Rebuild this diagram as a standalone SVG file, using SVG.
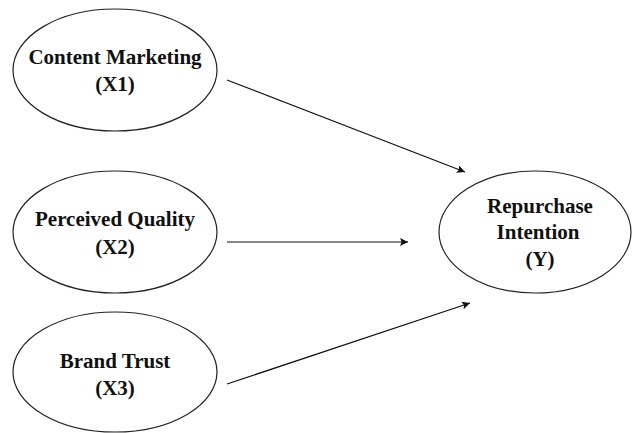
<svg xmlns="http://www.w3.org/2000/svg" width="632" height="433" viewBox="0 0 632 433">
  <style>
    .node ellipse { fill: #ffffff; stroke: #222222; stroke-width: 1.2; }
    .node text { font-family: "Liberation Serif", "Times New Roman", serif; font-weight: bold; font-size: 21px; fill: #111111; text-anchor: middle; }
    .edge { stroke: #111111; stroke-width: 1.2; fill: none; marker-end: url(#arrow); }
  </style>
  <defs>
    <marker id="arrow" viewBox="0 0 10 10" refX="10" refY="5" markerWidth="8" markerHeight="8" markerUnits="userSpaceOnUse" orient="auto">
      <path d="M0,0 L10,5 L0,10 L2,5 Z" fill="#111111"/>
    </marker>
  </defs>
  <rect width="632" height="433" fill="#ffffff"/>

  <g id="x1" class="node">
    <ellipse cx="115" cy="70" rx="102" ry="61"/>
    <text x="115" y="64">Content Marketing</text>
    <text x="115" y="91">(X1)</text>
  </g>

  <g id="x2" class="node">
    <ellipse cx="115" cy="232" rx="102" ry="61"/>
    <text x="115" y="226">Perceived Quality</text>
    <text x="115" y="254">(X2)</text>
  </g>

  <g id="x3" class="node">
    <ellipse cx="115" cy="372" rx="102" ry="60"/>
    <text x="115" y="368">Brand Trust</text>
    <text x="115" y="395">(X3)</text>
  </g>

  <g id="y" class="node">
    <ellipse cx="535" cy="232" rx="96" ry="61"/>
    <text x="540" y="213">Repurchase</text>
    <text x="538" y="239">Intention</text>
    <text x="540" y="266">(Y)</text>
  </g>

  <g id="connectors">
    <line class="edge" x1="227" y1="80" x2="465" y2="172"/>
    <line class="edge" x1="227" y1="242" x2="408" y2="242"/>
    <line class="edge" x1="227" y1="384" x2="470" y2="303"/>
  </g>
</svg>
